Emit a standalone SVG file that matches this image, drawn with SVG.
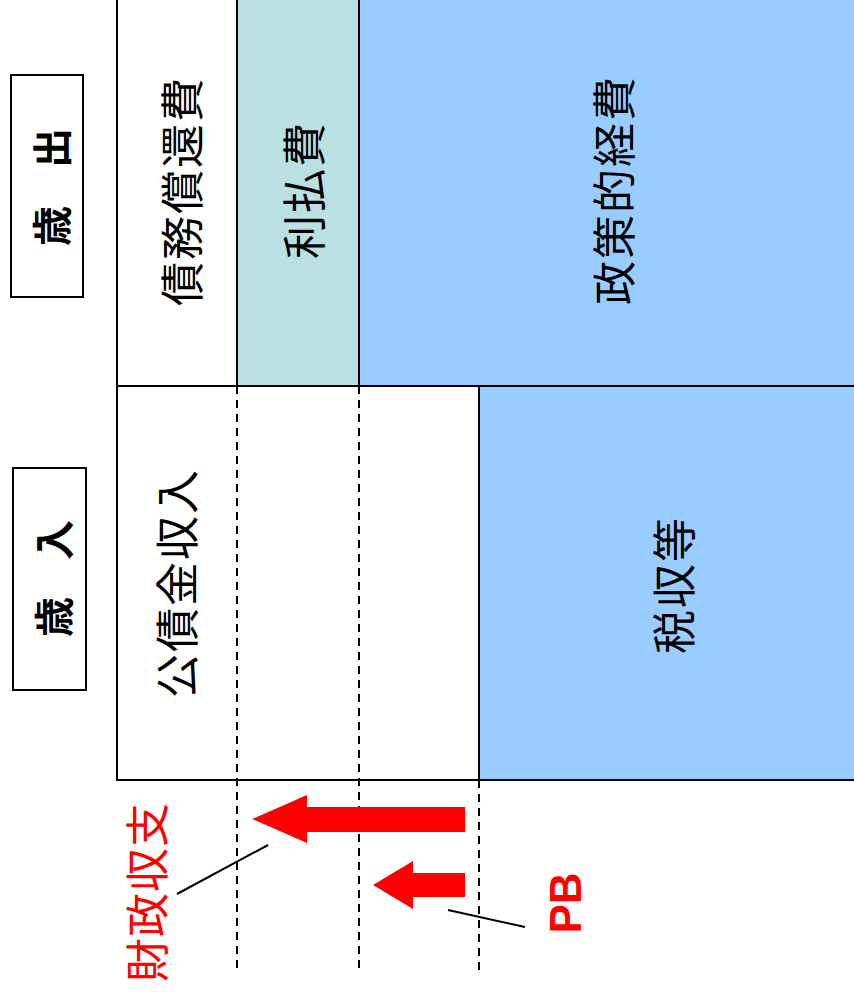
<svg xmlns="http://www.w3.org/2000/svg" width="854" height="993" viewBox="0 0 854 993">
<style>
.ln{stroke:#000;stroke-width:2;fill:none}
.dash{stroke:#000;stroke-width:2;stroke-dasharray:8,6;fill:none}
.jp{font-family:"Noto Sans CJK JP","Noto Sans CJK SC",sans-serif;font-size:44px;text-anchor:middle;dominant-baseline:central;fill:#000;letter-spacing:2px}
.lab{font-family:"Noto Sans CJK JP",sans-serif;font-size:40px;font-weight:bold;text-anchor:middle;dominant-baseline:central;fill:#000}
.red{fill:#FF0000}
</style>
<rect width="854" height="993" fill="#fff"/>
<g id="debt-redemption">
<rect x="117" y="0" width="120" height="386" fill="#fff"/>
<text class="jp" transform="translate(180,191) rotate(-90)">債務償還費</text>
</g>
<g id="interest">
<rect x="237" y="0" width="122" height="386" fill="#BBE0E3"/>
<text class="jp" transform="translate(302,190) rotate(-90)">利払費</text>
</g>
<g id="policy">
<rect x="359" y="0" width="495" height="386" fill="#99CCFF"/>
<text class="jp" transform="translate(612,190) rotate(-90)">政策的経費</text>
</g>
<g id="bond-revenue">
<rect x="117" y="386" width="362" height="394" fill="#fff"/>
<text class="jp" transform="translate(175,583) rotate(-90)">公債金収入</text>
</g>
<g id="tax">
<rect x="479" y="386" width="375" height="394" fill="#99CCFF"/>
<text class="jp" transform="translate(672,585) rotate(-90)">税収等</text>
</g>
<g id="label-expenditure">
<rect x="11" y="75" width="72" height="222" fill="#fff" stroke="#000" stroke-width="2"/>
<text class="lab" transform="translate(50,148) rotate(-90)">出</text>
<text class="lab" transform="translate(50,226) rotate(-90)">歳</text>
</g>
<g id="label-revenue">
<rect x="13" y="468" width="73" height="222" fill="#fff" stroke="#000" stroke-width="2"/>
<text class="lab" transform="translate(52,540) rotate(-90)">入</text>
<text class="lab" transform="translate(52,617) rotate(-90)">歳</text>
</g>
<g id="connectors">
<path class="ln" d="M117,0 V780 H854"/>
<path class="ln" d="M117,386 H854"/>
<path class="ln" d="M237,0 V386 M359,0 V386 M479,386 V780"/>
<path class="dash" d="M237,386 V970 M359,386 V970 M479,780 V970"/>
<path class="ln" d="M177,894 L268,845"/>
<path class="ln" d="M448,910 L525,927"/>
</g>
<g id="arrow-fiscal-balance">
<polygon class="red" points="465,807 307,807 307,795 252,819 307,843 307,832 465,832"/>
</g>
<g id="arrow-pb">
<polygon class="red" points="465,873 413,873 413,861 373,885 413,909 413,897 465,897"/>
</g>
<g id="label-fiscal-balance">
<text class="jp" style="fill:#FF0000;letter-spacing:1px" transform="translate(145,892) rotate(-90)">財政収支</text>
</g>
<g id="label-pb">
<text transform="translate(565,903) rotate(-90)" style="font-family:'Liberation Sans',sans-serif;font-size:44px;font-weight:bold;fill:#FF0000;text-anchor:middle;dominant-baseline:central">PB</text>
</g>
</svg>
